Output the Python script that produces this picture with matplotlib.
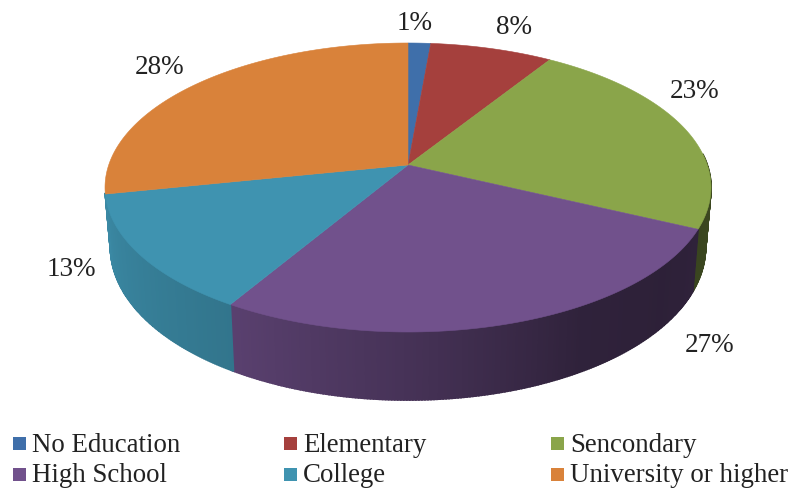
import numpy as np
import matplotlib
matplotlib.use("Agg")
import matplotlib.pyplot as plt
from matplotlib.patches import Polygon, Rectangle

categories = ["No Education", "Elementary", "Sencondary", "High School", "College", "University or higher"]
# slice sizes, printed labels are these rounded
values = [1.4, 7.6, 23.0, 26.6, 13.2, 28.2]
colors = ["#3F6FAA", "#A5403D", "#8AA54A", "#71518C", "#3F93B0", "#D9823A"]
label_pos = [(415, 23), (514, 27), (695, 92), (710, 345), (71, 269), (160, 68)]

# pie geometry in pixels
cx, cy = 408, 166
a, b, k = 299.3, 141.0, -0.1557


def rim(theta):
    # theta in degrees clockwise from top, perspective view of the circle
    t = np.radians(theta)
    x, y = np.sin(t), -np.cos(t)
    w = 1 + k * y
    return cx + a * x / w, cy + b * y / w


def rim_bottom(theta):
    # lower edge of the side wall
    t = np.radians(theta)
    X, Y = rim(theta)
    depth = 58 + 10 * np.clip(-np.cos(t), 0, 1)
    return cx + 0.982 * (X - cx), Y + depth


def shade(theta):
    return np.interp(theta, [90, 130, 150, 180, 212, 259, 280], [0.45, 0.4, 0.42, 0.62, 0.8, 0.93, 0.95])


def darker(col, f):
    return tuple(c * f for c in matplotlib.colors.to_rgb(col))


fig = plt.figure(figsize=(7.93, 4.89), dpi=100)
ax = fig.add_axes([0, 0, 1, 1])
ax.set_xlim(0, 793)
ax.set_ylim(489, 0)
ax.axis("off")

edges = np.concatenate([[0], np.cumsum(values)]) / sum(values) * 360

# side walls first, only the front part shows, orange wall stays hidden
for i in range(len(values) - 1):
    th = np.arange(edges[i], edges[i + 1] + 0.5, 0.5)
    th = th[(th > 85) & (th < 285)]
    for t0, t1 in zip(th[:-1], th[1:]):
        pts = [rim(t0), rim(t1), rim_bottom(t1), rim_bottom(t0)]
        c = darker(colors[i], shade((t0 + t1) / 2))
        ax.add_patch(Polygon(pts, closed=True, facecolor=c, edgecolor=c, linewidth=1.2))

# top face
for i in range(len(values)):
    th = np.linspace(edges[i], edges[i + 1], 200)
    xs, ys = rim(th)
    pts = [(cx, cy)] + list(zip(xs, ys))
    ax.add_patch(Polygon(pts, closed=True, facecolor=colors[i], edgecolor=colors[i], linewidth=0.4))

# percent labels
for v, (x, y) in zip(values, label_pos):
    ax.text(x, y, "%d%%" % round(v), ha="center", va="center", fontsize=19.5,
            family="Liberation Serif", color="#222222")

# legend
leg_x = [13, 284, 551]
leg_y = [445, 476]
for i, name in enumerate(categories):
    x = leg_x[i % 3]
    y = leg_y[i // 3]
    ax.add_patch(Rectangle((x, y - 7), 13, 13, facecolor=colors[i], edgecolor="none"))
    ax.text(x + 19, y, name, ha="left", va="center", fontsize=19.4,
            family="Liberation Serif", color="#222222")

fig.savefig("out.png", dpi=100)
